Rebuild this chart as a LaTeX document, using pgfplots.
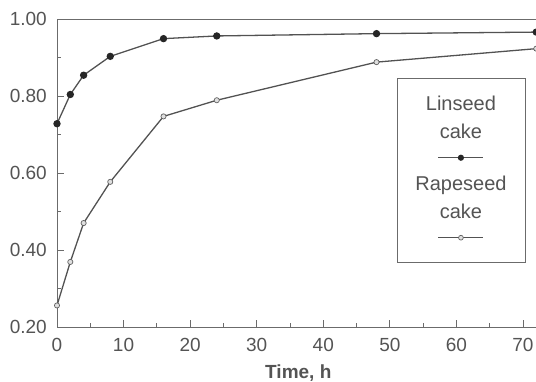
\documentclass[border=0pt]{standalone}
\usepackage{fontspec}
\setmainfont{Liberation Sans}
\usepackage{pgfplots}
\pgfplotsset{compat=1.18}
\definecolor{tc}{gray}{0.33}
\definecolor{ac}{gray}{0.42}
\definecolor{lc}{gray}{0.32}
\pgfplotsset{
  samplelegend/.style={legend image code/.code={\draw[mark repeat=2,mark phase=2,##1, mark size=2.4bp] plot coordinates {(0bp,0bp) (22.5bp,0bp) (45bp,0bp)}; \path[draw=none,fill=none] (0bp,-3bp) rectangle (45bp,3bp);}},
  samplelegendlast/.style={legend image code/.code={\draw[mark repeat=2,mark phase=2,##1, mark size=2.4bp] plot coordinates {(0bp,0bp) (22.5bp,0bp) (45bp,0bp)}; \path[draw=none,fill=none] (0bp,-8bp) rectangle (45bp,3bp);}},
}
\begin{document}
\begin{tikzpicture}
\begin{axis}[
  scale only axis,
  width=482.6bp, height=308bp,
  xmin=0, xmax=72.5, ymin=0.2, ymax=1.0,
  axis line style={ac, line width=1pt},
  xtick={0,10,20,30,40,50,60,70},
  minor xtick={5,15,25,35,45,55,65},
  ytick={0.2,0.4,0.6,0.8,1.0},
  minor ytick={0.3,0.5,0.7,0.9},
  tick align=inside,
  xtick pos=left, ytick pos=left,
  major tick length=7bp, minor tick length=4bp,
  every tick/.style={ac, line width=0.9pt},
  /pgf/number format/assume math mode=true,
  ticklabel style={font=\fontsize{19bp}{22bp}\selectfont, text=tc},
  xticklabel style={inner sep=0pt, yshift=-11bp},
  yticklabel style={inner sep=0pt, xshift=-10bp, /pgf/number format/.cd, fixed, fixed zerofill, precision=2},
  xlabel={Time, h},
  every axis x label/.style={at={(axis description cs:0.5,0)}, anchor=north, yshift=-38bp, inner sep=0pt, font=\fontsize{19bp}{22bp}\selectfont\bfseries, text=tc},
  legend style={at={(0.838,0.8075)}, anchor=north, draw=ac, line width=0.9pt, inner xsep=18bp, inner ysep=17bp, row sep=15bp, nodes={inner sep=0pt}},
  legend cell align=center,
]
\addlegendimage{legend image code/.code={\node[inner sep=0pt, align=center, text=tc, font=\fontsize{20bp}{28bp}\selectfont] at (22.5bp,0) {Linseed\\cake};}}
\addlegendentry{\mbox{}}
\addplot[lc, line width=1.3pt, mark=*, mark size=3bp, mark options={fill=black!85, draw=black!85}, samplelegend]
  coordinates {(0,0.728) (2,0.804) (4,0.854) (8,0.903) (16,0.949) (24,0.956) (48,0.962) (72,0.966)};
\addlegendentry{\mbox{}}
\addlegendimage{legend image code/.code={\node[inner sep=0pt, align=center, text=tc, font=\fontsize{20bp}{28bp}\selectfont] at (22.5bp,0) {Rapeseed\\cake};}}
\addlegendentry{\mbox{}}
\addplot[lc, line width=1.3pt, mark=*, mark size=2.6bp, mark options={fill=gray!25, draw=gray!75!black, line width=0.7pt}, samplelegendlast]
  coordinates {(0,0.256) (2,0.369) (4,0.470) (8,0.577) (16,0.747) (24,0.789) (48,0.888) (72,0.923)};
\addlegendentry{\mbox{}}
\end{axis}
\pgfresetboundingbox
\path[use as bounding box] (-57bp,-55bp) rectangle (479bp,327bp);
\end{tikzpicture}
\end{document}
